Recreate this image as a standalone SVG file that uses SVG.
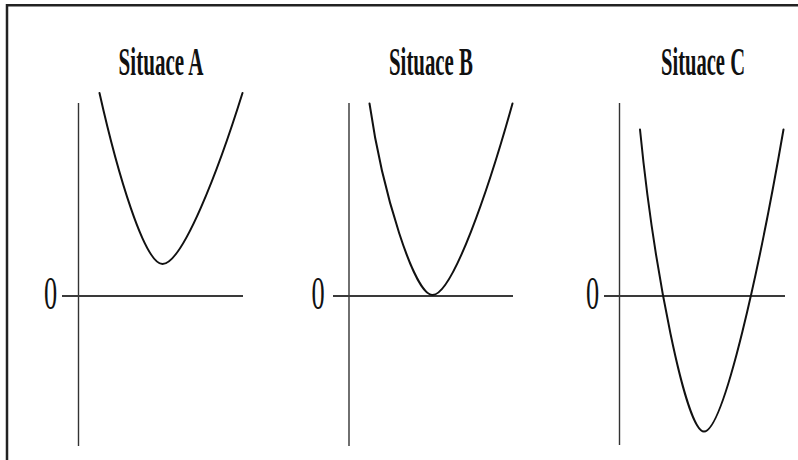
<svg xmlns="http://www.w3.org/2000/svg" width="798" height="460" viewBox="0 0 798 460">
<style>
.frame{fill:none;stroke:#222;stroke-width:2.5}
.vaxis{stroke:#333;stroke-width:1.4;fill:none}
.haxis{stroke:#3a3a3a;stroke-width:2;fill:none}
.curve{fill:none;stroke:#111;stroke-width:2;stroke-linecap:round}
.title{font-family:"Liberation Serif","Times New Roman",serif;font-weight:bold;font-size:39px;fill:#111;text-anchor:middle}
.zero{font-family:"Liberation Serif","Times New Roman",serif;font-size:47px;fill:#111;text-anchor:middle}
</style>
<rect width="798" height="460" fill="#fff"/>
<path class="frame" d="M7,460 V5.3 H798"/>
<g id="situaceA">
<text class="title" transform="translate(161,75) scale(0.54,1)">Situace A</text>
<line class="vaxis" x1="78.5" y1="103" x2="78.5" y2="446"/>
<line class="haxis" x1="62" y1="296" x2="243" y2="296"/>
<text class="zero" transform="translate(50.5,309) scale(0.56,1)">0</text>
<path class="curve" d="M99.5,93 C117.5,173.4 144.5,264 162.5,264 C182.5,264 218.5,170 242.5,93"/>
</g>
<g id="situaceB">
<text class="title" transform="translate(431,74.5) scale(0.535,1)">Situace B</text>
<line class="vaxis" x1="349" y1="103" x2="349" y2="446"/>
<line class="haxis" x1="333" y1="296" x2="513" y2="296"/>
<text class="zero" transform="translate(318,309) scale(0.56,1)">0</text>
<path class="curve" d="M369.5,103.5 C382.5,193.5 414.5,295 432.5,295 C452.5,295 488.5,189.7 512.5,103.5"/>
</g>
<g id="situaceC">
<text class="title" transform="translate(703,74.5) scale(0.528,1)">Situace C</text>
<line class="vaxis" x1="619.5" y1="103" x2="619.5" y2="445"/>
<line class="haxis" x1="604" y1="296" x2="785" y2="296"/>
<text class="zero" transform="translate(592.5,309) scale(0.56,1)">0</text>
<path class="curve" d="M640,129.5 C654,271.4 686,431.5 704,431.5 C724,431.5 760,265.4 783.5,129.5"/>
</g>
</svg>
